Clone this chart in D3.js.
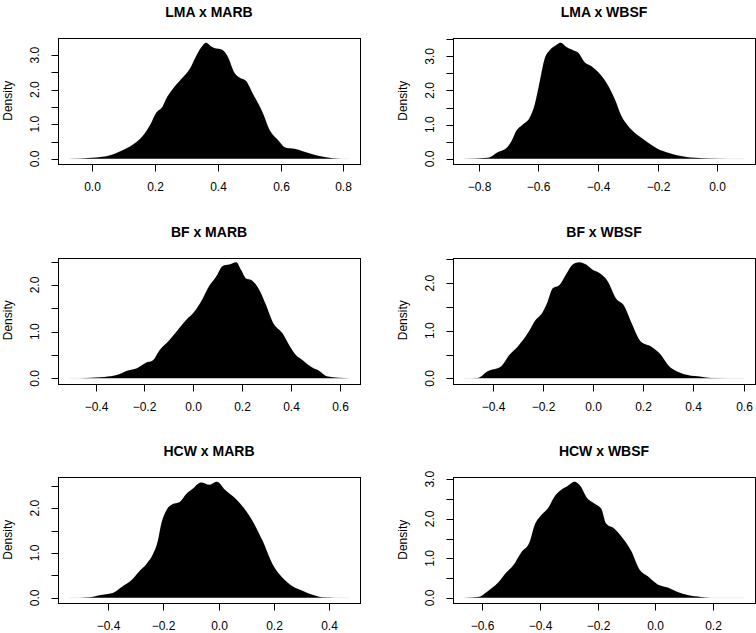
<!DOCTYPE html>
<html>
<head>
<meta charset="utf-8">
<script src="https://cdn.jsdelivr.net/npm/d3@7"></script>
<style>
  html, body { margin: 0; padding: 0; background: #fff; }
  svg { display: block; }
  text { font-family: "Liberation Sans", Arial, Helvetica, sans-serif; fill: #000; }
</style>
</head>
<body>
<svg id="chart" width="756" height="633"></svg>
<script>
// ---------- data ----------
const titles = ["LMA x MARB", "LMA x WBSF", "BF x MARB", "BF x WBSF", "HCW x MARB", "HCW x WBSF"];

// range of the density estimate (x) for each panel
const xRanges = [
  [-0.073, 0.817],
  [-0.849, 0.089],
  [-0.508, 0.637],
  [-0.514, 0.601],
  [-0.541, 0.471],
  [-0.663, 0.307]
];

const xTicks = [
  [0.0, 0.2, 0.4, 0.6, 0.8],
  [-0.8, -0.6, -0.4, -0.2, 0.0],
  [-0.4, -0.2, 0.0, 0.2, 0.4, 0.6],
  [-0.4, -0.2, 0.0, 0.2, 0.4, 0.6],
  [-0.4, -0.2, 0.0, 0.2, 0.4],
  [-0.6, -0.4, -0.2, 0.0, 0.2]
];
const yTicks = [
  [0, 0.5, 1, 1.5, 2, 2.5, 3],
  [0, 0.5, 1, 1.5, 2, 2.5, 3, 3.5],
  [0, 0.5, 1, 1.5, 2, 2.5],
  [0, 0.5, 1, 1.5, 2, 2.5],
  [0, 0.5, 1, 1.5, 2, 2.5],
  [0, 0.5, 1, 1.5, 2, 2.5, 3]
];
const yLabelTicks = [
  [0, 1, 2, 3],
  [0, 1, 2, 3],
  [0, 1, 2],
  [0, 1, 2],
  [0, 1, 2],
  [0, 1, 2, 3]
];

// density curves (x, density)
const densLMA_MARB_x = [-0.073, 0.0, 0.055, 0.097, 0.129, 0.161, 0.188, 0.204, 0.225, 0.235, 0.256, 0.283, 0.31, 0.331, 0.347, 0.363, 0.379, 0.394, 0.41, 0.431, 0.453, 0.469, 0.49, 0.51, 0.543, 0.564, 0.59, 0.617, 0.643, 0.67, 0.696, 0.723, 0.765, 0.817];
const densLMA_MARB_y = [0.0, 0.03, 0.1, 0.25, 0.41, 0.66, 1.04, 1.33, 1.52, 1.72, 2.01, 2.30, 2.59, 2.97, 3.22, 3.36, 3.25, 3.19, 3.17, 2.97, 2.49, 2.35, 2.25, 1.91, 1.33, 0.85, 0.56, 0.32, 0.29, 0.22, 0.15, 0.08, 0.02, 0.0];

const densLMA_WBSF_x = [-0.849, -0.769, -0.735, -0.707, -0.69, -0.674, -0.651, -0.629, -0.612, -0.596, -0.579, -0.562, -0.545, -0.525, -0.506, -0.484, -0.467, -0.445, -0.422, -0.4, -0.366, -0.344, -0.322, -0.299, -0.271, -0.255, -0.232, -0.199, -0.165, -0.132, -0.076, -0.02, 0.089];
const densLMA_WBSF_y = [0.0, 0.03, 0.2, 0.32, 0.52, 0.82, 1.01, 1.21, 1.60, 2.24, 2.93, 3.18, 3.30, 3.40, 3.27, 3.18, 3.11, 2.83, 2.71, 2.54, 2.14, 1.75, 1.26, 0.96, 0.72, 0.62, 0.47, 0.29, 0.18, 0.10, 0.03, 0.01, 0.0];

const densBF_MARB_x = [-0.508, -0.362, -0.314, -0.273, -0.233, -0.192, -0.165, -0.137, -0.11, -0.069, -0.029, 0.005, 0.039, 0.06, 0.094, 0.121, 0.148, 0.176, 0.196, 0.216, 0.237, 0.271, 0.298, 0.325, 0.366, 0.393, 0.42, 0.448, 0.482, 0.516, 0.55, 0.637];
const densBF_MARB_y = [0.0, 0.03, 0.07, 0.16, 0.21, 0.34, 0.39, 0.61, 0.75, 1.0, 1.25, 1.43, 1.71, 1.93, 2.18, 2.41, 2.44, 2.49, 2.32, 2.14, 2.11, 1.89, 1.57, 1.21, 0.96, 0.71, 0.5, 0.39, 0.25, 0.16, 0.04, 0.0];

const densBF_WBSF_x = [-0.514, -0.46, -0.42, -0.367, -0.334, -0.3, -0.26, -0.234, -0.2, -0.181, -0.161, -0.134, -0.108, -0.081, -0.055, -0.028, -0.002, 0.025, 0.058, 0.091, 0.125, 0.151, 0.191, 0.231, 0.264, 0.304, 0.337, 0.377, 0.43, 0.47, 0.601];
const densBF_WBSF_y = [0.0, 0.01, 0.15, 0.25, 0.49, 0.67, 0.95, 1.19, 1.40, 1.61, 1.89, 1.96, 2.18, 2.39, 2.44, 2.39, 2.28, 2.21, 2.04, 1.68, 1.51, 1.19, 0.77, 0.67, 0.53, 0.25, 0.14, 0.07, 0.035, 0.01, 0.0];

const densHCW_MARB_x = [-0.541, -0.467, -0.431, -0.383, -0.347, -0.316, -0.286, -0.262, -0.238, -0.22, -0.208, -0.19, -0.166, -0.142, -0.118, -0.094, -0.064, -0.034, -0.007, 0.026, 0.063, 0.111, 0.159, 0.195, 0.231, 0.267, 0.303, 0.339, 0.375, 0.471];
const densHCW_MARB_y = [0.0, 0.015, 0.06, 0.11, 0.26, 0.39, 0.6, 0.75, 0.97, 1.27, 1.64, 1.94, 2.09, 2.13, 2.31, 2.43, 2.57, 2.52, 2.59, 2.39, 2.2, 1.83, 1.27, 0.75, 0.45, 0.26, 0.16, 0.07, 0.015, 0.0];

const densHCW_WBSF_x = [-0.663, -0.615, -0.581, -0.546, -0.517, -0.494, -0.465, -0.436, -0.419, -0.396, -0.373, -0.35, -0.327, -0.304, -0.281, -0.258, -0.24, -0.212, -0.188, -0.171, -0.142, -0.107, -0.084, -0.055, -0.027, 0.008, 0.043, 0.077, 0.112, 0.158, 0.193, 0.307];
const densHCW_WBSF_y = [0.0, 0.02, 0.17, 0.38, 0.64, 0.81, 1.15, 1.41, 1.83, 2.09, 2.26, 2.56, 2.73, 2.83, 2.94, 2.81, 2.56, 2.39, 2.26, 1.88, 1.75, 1.45, 1.19, 0.72, 0.55, 0.34, 0.26, 0.15, 0.07, 0.02, 0.0, 0.0];

const densX = [densLMA_MARB_x, densLMA_WBSF_x, densBF_MARB_x, densBF_WBSF_x, densHCW_MARB_x, densHCW_WBSF_x];
const densY = [densLMA_MARB_y, densLMA_WBSF_y, densBF_MARB_y, densBF_WBSF_y, densHCW_MARB_y, densHCW_WBSF_y];

// ---------- layout ----------
const svg = d3.select("#chart");
const colLeft = [58, 453];
const rowTop = [38, 257.5, 477];
const boxW = 302, boxH = 125.5;
const tickLen = 7;
const fmt = d3.format(".1f");

titles.forEach((title, i) => {
  const col = i % 2, row = Math.floor(i / 2);
  const x0 = colLeft[col], y0 = rowTop[row];
  const xr = xRanges[i];
  const pad = (xr[1] - xr[0]) * 0.04;
  const ymax = d3.max(densY[i]);
  const x = d3.scaleLinear().domain([xr[0] - pad, xr[1] + pad]).range([x0, x0 + boxW]);
  const y = d3.scaleLinear().domain([-0.04 * ymax, ymax * 1.04]).range([y0 + boxH, y0]);

  const g = svg.append("g");
  const pts = densX[i].map((d, k) => [d, densY[i][k]]);

  // filled density
  const area = d3.area()
    .x(d => x(d[0]))
    .y0(y(0))
    .y1(d => y(d[1]))
    .curve(d3.curveMonotoneX);
  g.append("path").datum(pts).attr("d", area).attr("fill", "#000").attr("stroke", "none");
  // faint tail line of the density outline
  const line = d3.line().x(d => x(d[0])).y(d => y(d[1])).curve(d3.curveMonotoneX);
  g.append("path").datum(pts).attr("d", line).attr("fill", "none")
    .attr("stroke", "#000").attr("stroke-opacity", 0.08).attr("stroke-width", 1);

  // box
  g.append("rect")
    .attr("x", Math.round(x0) + 0.5).attr("y", Math.round(y0) + 0.5)
    .attr("width", boxW).attr("height", Math.round(boxH))
    .attr("fill", "none").attr("stroke", "#000").attr("stroke-width", 1);

  const yb = Math.round(y0) + Math.round(boxH) + 0.5;
  const xl = Math.round(x0) + 0.5;

  // x axis
  xTicks[i].forEach(t => {
    const px = Math.round(x(t)) + 0.5;
    g.append("line").attr("x1", px).attr("x2", px).attr("y1", yb).attr("y2", yb + tickLen)
      .attr("stroke", "#000").attr("stroke-width", 1);
    g.append("text").attr("x", px).attr("y", yb + 26)
      .attr("text-anchor", "middle").attr("font-size", 12)
      .text(fmt(t).replace("-", "\u2212"));
  });

  // y axis
  yTicks[i].forEach(t => {
    const py = Math.round(y(t)) + 0.5;
    g.append("line").attr("x1", xl - tickLen).attr("x2", xl).attr("y1", py).attr("y2", py)
      .attr("stroke", "#000").attr("stroke-width", 1);
  });
  yLabelTicks[i].forEach(t => {
    const py = y(t);
    g.append("text").attr("transform", `translate(${x0 - 19},${py}) rotate(-90)`)
      .attr("text-anchor", "middle").attr("font-size", 12)
      .text(fmt(t));
  });

  // y label
  g.append("text").attr("transform", `translate(${x0 - 46},${y0 + boxH / 2}) rotate(-90)`)
    .attr("text-anchor", "middle").attr("font-size", 12).text("Density");

  // title
  g.append("text").attr("x", x0 + boxW / 2).attr("y", y0 - 21)
    .attr("text-anchor", "middle").attr("font-size", 14).attr("font-weight", "bold").text(title);
});
</script>
</body>
</html>
